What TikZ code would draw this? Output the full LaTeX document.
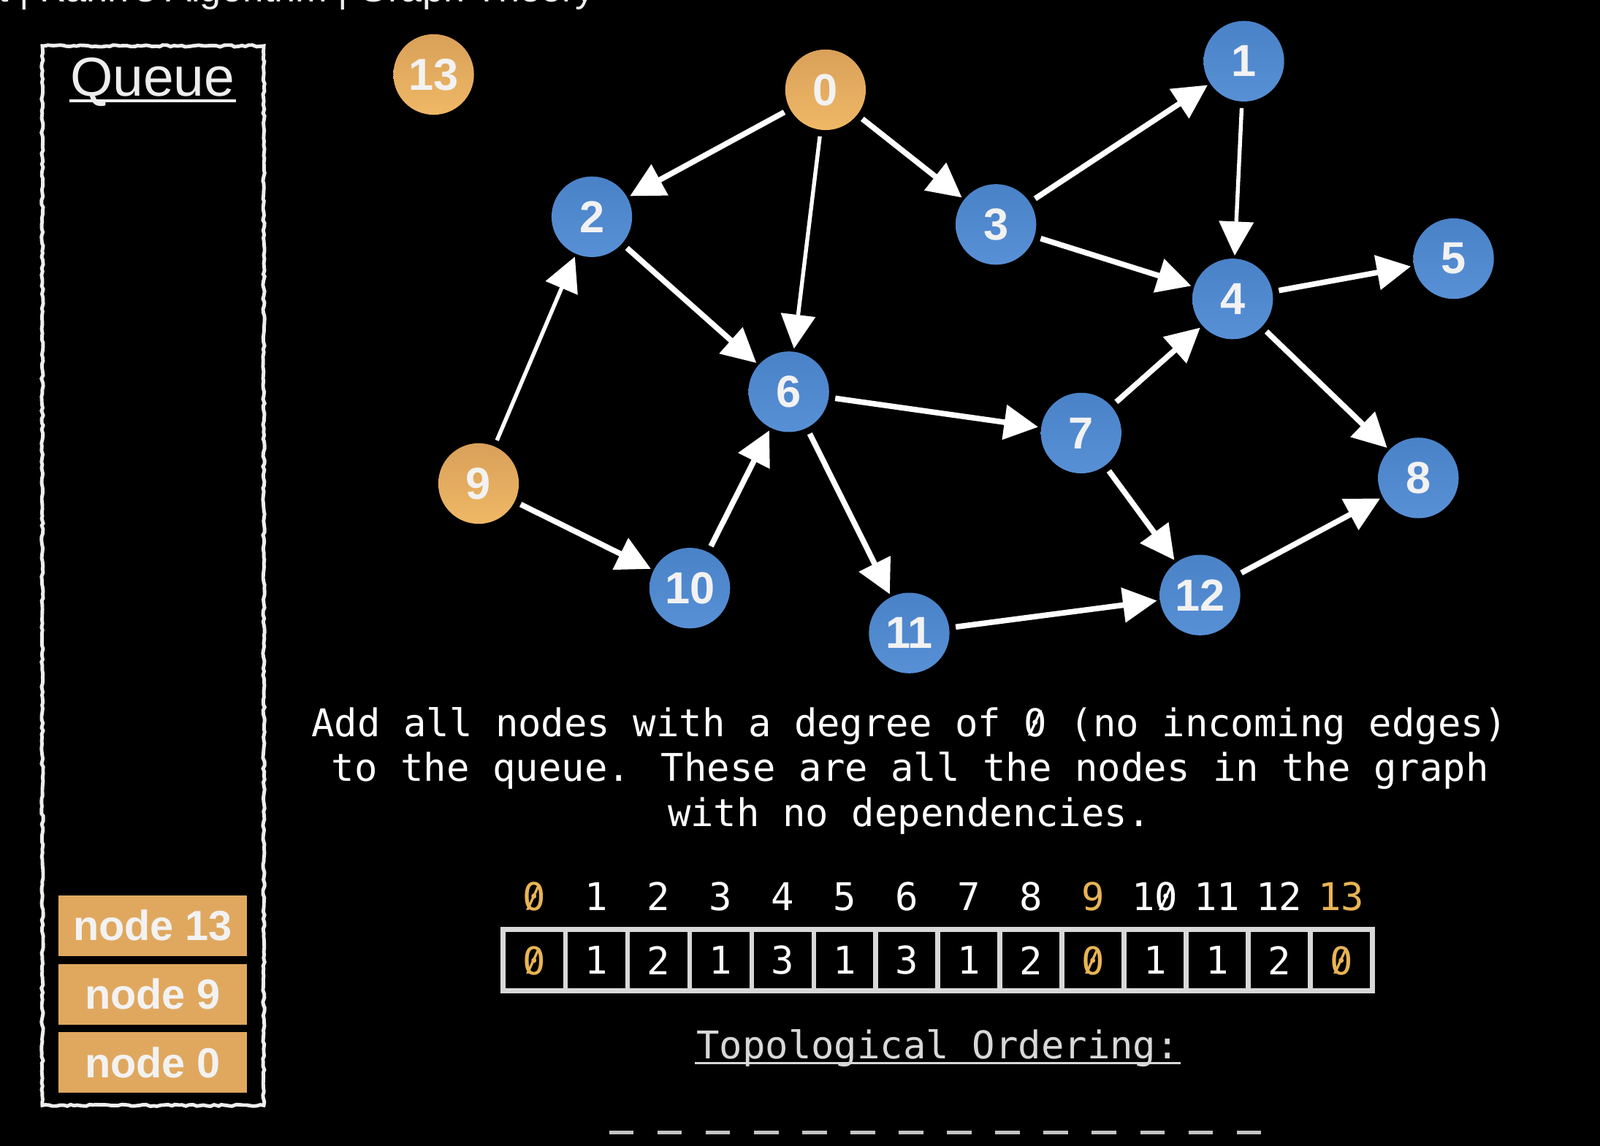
\documentclass[tikz,border=0pt]{standalone}
\usepackage{fontspec}
\setmainfont{Liberation Sans}
\newfontfamily\sansf{Liberation Sans}
\newfontfamily\monof{DejaVu Sans Mono}
\usetikzlibrary{arrows.meta,decorations.pathmorphing}
\definecolor{orgtop}{HTML}{D9A059}
\definecolor{orgbot}{HTML}{EFB866}
\definecolor{bluetop}{HTML}{4A82C8}
\definecolor{bluebot}{HTML}{5890D6}
\definecolor{qorange}{HTML}{E0A85F}
\definecolor{accent}{HTML}{E8B455}
\definecolor{nodetxt}{HTML}{F2F2F2}
\definecolor{softwhite}{HTML}{EEEEEE}
\definecolor{dimwhite}{HTML}{D8D8D8}
\definecolor{dashgray}{HTML}{C4C4C4}
% slashed zero as printed in the reference
\newcommand\slzero{\ooalign{0\cr\hidewidth\raisebox{0.09em}{\scalebox{0.78}[0.8]{/}}\hidewidth\cr}}
\begin{document}
\begin{tikzpicture}[x=0.02cm,y=-0.02cm,
  gnode/.style={circle, minimum size=1.58cm, inner sep=0pt, text=nodetxt,
    font=\sansf\bfseries\fontsize{25}{25}\selectfont},
  bnode/.style={gnode, top color=bluetop, bottom color=bluebot},
  onode/.style={gnode, top color=orgtop, bottom color=orgbot},
  edge/.style={draw=white, line width=3.1pt, -{Triangle[length=19pt,width=19pt]},
    shorten >=1.5pt, shorten <=3.5pt},
  thinedge/.style={edge, line width=2.2pt},
  qitem/.style={rectangle, fill=qorange, minimum width=3.694cm, minimum height=1.19cm,
    inner sep=0pt, text=nodetxt, font=\sansf\bfseries\fontsize{23.5}{23.5}\selectfont},
  monotext/.style={font=\monof\fontsize{21.3}{25}\selectfont, inner sep=0pt},
  cell/.style={rectangle, fill=black, minimum width=1.128cm, minimum height=1.108cm,
    inner sep=0pt, monotext},
  chalk/.style={draw=softwhite, line width=2pt, decorate,
    decoration={random steps, segment length=2pt, amplitude=0.5pt}},
  ulinestyle/.style={line width=1.3pt}
]
\clip (0,0) rectangle (1568,1123);
\fill[black] (0,0) rectangle (1568,1123);

% title of the frame, cut off at the top edge as in the reference
\node[anchor=base west, inner sep=0pt, text=softwhite,
  font=\sansf\fontsize{21.3}{21.3}\selectfont] (title) at (-2,2) {t | Kahn's Algorithm | Graph Theory};

% queue panel
\draw[chalk] (41.5,45) rectangle (258.5,1083.5);
\node[anchor=base, inner sep=0pt, text=softwhite,
  font=\sansf\fontsize{30.6}{30.6}\selectfont] (qlabel) at (149.5,94.3) {Queue};
\draw[softwhite, ulinestyle] (68,98.8) -- (231.5,98.8);
\node[qitem] (q13) at (149.7,907.2) {node 13};
\node[qitem] (q9) at (149.7,974.5) {node 9};
\node[qitem] (q0) at (149.7,1041.7) {node 0};

% graph nodes
\node[onode] (n13) at (425,73) {13};
\node[onode] (n0) at (809,88) {0};
\node[bnode] (n1) at (1219,60) {1};
\node[bnode] (n2) at (580,212.5) {2};
\node[bnode] (n3) at (976,220) {3};
\node[bnode] (n4) at (1208,293) {4};
\node[bnode] (n5) at (1424.5,253.5) {5};
\node[bnode] (n6) at (773,384) {6};
\node[bnode] (n7) at (1059.5,424.5) {7};
\node[bnode] (n8) at (1390,468.5) {8};
\node[onode] (n9) at (469,474) {9};
\node[bnode] (n10) at (676,576.5) {10};
\node[bnode] (n11) at (891,620.5) {11};
\node[bnode] (n12) at (1176,583.3) {12};

% edges
\draw[edge] (n0) -- (n2);
\draw[thinedge] (n0) -- (n6);
\draw[edge] (n0) -- (n3);
\draw[edge] (n3) -- (n1);
\draw[edge] (n3) -- (n4);
\draw[thinedge] (n1) -- (n4);
\draw[edge] (n4) -- (n5);
\draw[edge] (n4) -- (n8);
\draw[edge] (n2) -- (n6);
\draw[thinedge] (n9) -- (n2);
\draw[edge] (n9) -- (n10);
\draw[edge] (n10) -- (n6);
\draw[edge] (n6) -- (n7);
\draw[edge] (n6) -- (n11);
\draw[edge] (n7) -- (n4);
\draw[edge] (n7) -- (n12);
\draw[edge] (n11) -- (n12);
\draw[edge] (n12) -- (n8);

% explanation text
\node[monotext, anchor=base, text=white] (t1) at (891,722) {Add all nodes with a degree of \slzero{} (no incoming edges)};
\node[monotext, anchor=base, text=white] (t2) at (892,766) {to the queue. These are all the nodes in the graph};
\node[monotext, anchor=base, text=white] (t3) at (891,810) {with no dependencies.};

% in-degree array
\fill[dimwhite] (490.5,908.8) rectangle (1347.5,973.8);
\foreach \v/\c/\lab [count=\i from 0] in {\slzero/accent/\slzero,1/white/1,2/white/2,1/white/3,3/white/4,1/white/5,3/white/6,1/white/7,2/white/8,\slzero/accent/9,1/white/1\slzero,1/white/11,2/white/12,\slzero/accent/13}{
  \node[monotext, anchor=base, text=\c] (idx\i) at ({493.1+60.843*(\i+0.5)},892.8) {\lab};
  \node[cell, text=\c] (c\i) at ({493.1+60.843*(\i+0.5)},941.3) {\v};
}

% topological ordering
\node[monotext, anchor=base, text=dimwhite] (topo) at (919,1037.5) {Topological Ordering:};
\draw[dimwhite, line width=1.1pt] (681,1042) -- (1157,1042);
\foreach \k in {0,...,13}{
  \draw[dashgray, line width=2.3pt] ({609+47.3*\k-12},1110) -- ({609+47.3*\k+12},1110);
}
\end{tikzpicture}
\end{document}
